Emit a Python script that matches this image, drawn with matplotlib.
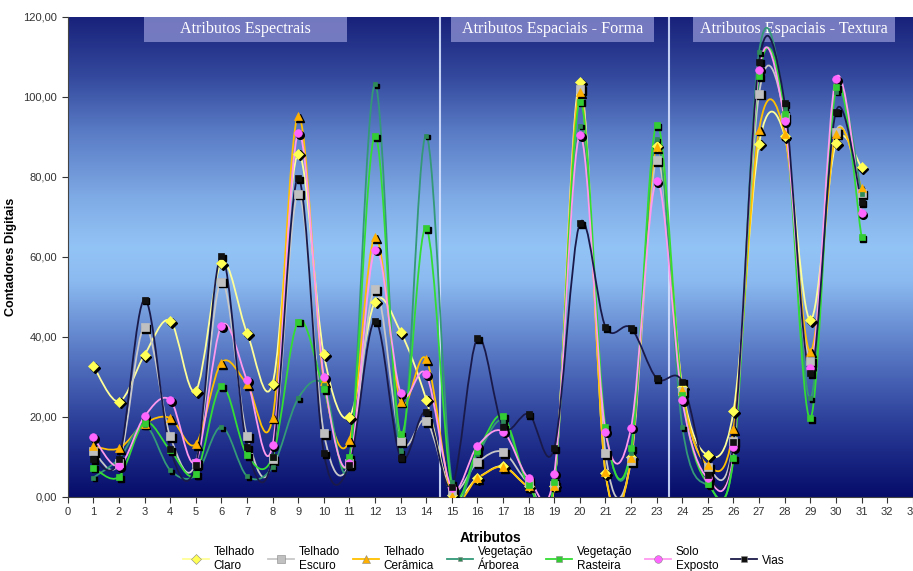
import matplotlib
matplotlib.use('Agg')
import matplotlib.pyplot as plt
import numpy as np
from matplotlib.path import Path
from matplotlib.patches import PathPatch, Rectangle
from matplotlib.colors import LinearSegmentedColormap
from matplotlib import transforms

plt.rcParams['font.family'] = ['Liberation Sans', 'DejaVu Sans']

atributos = list(range(1, 32))

telhado_claro = [32.7, 23.8, 35.5, 44.0, 26.5, 58.5, 41.0, 28.3, 85.8, 35.6, 20.0, 48.8, 41.2, 24.3,
                 0.5, 4.7, 7.6, 2.6, 2.8, 103.6, 6.0, 10.0, 87.8, 27.5, 10.4, 21.4, 88.3, 90.2, 44.2, 88.4, 82.4]
telhado_escuro = [11.5, 8.5, 42.5, 15.1, 8.5, 53.8, 15.2, 9.5, 75.8, 16.0, 8.5, 51.9, 14.0, 19.0,
                  1.5, 8.6, 11.2, 3.5, 3.0, 102.0, 11.0, 9.0, 84.2, 26.5, 7.5, 14.0, 100.8, 95.0, 34.0, 91.2, 76.0]
telhado_ceramica = [12.6, 12.1, 18.3, 19.7, 13.2, 33.5, 28.2, 19.8, 95.2, 29.0, 14.2, 65.0, 23.8, 34.4,
                    0.3, 4.6, 7.5, 2.6, 2.8, 101.2, 6.2, 9.6, 87.5, 26.7, 7.9, 17.0, 91.8, 90.6, 36.3, 90.8, 77.2]
veg_arborea = [4.8, 9.5, 18.0, 6.7, 5.4, 17.5, 5.2, 7.5, 24.6, 28.0, 9.0, 103.1, 11.5, 90.3,
               3.6, 10.8, 19.0, 3.0, 3.6, 92.8, 17.0, 11.0, 89.5, 17.5, 2.9, 10.0, 111.2, 97.0, 24.6, 101.3, 75.7]
veg_rasteira = [7.3, 5.0, 18.5, 11.7, 5.7, 27.7, 10.4, 10.0, 43.8, 27.0, 10.0, 90.2, 15.7, 67.2,
                2.5, 11.5, 20.2, 2.9, 3.8, 98.8, 17.4, 12.1, 93.0, 25.5, 3.3, 9.6, 105.2, 95.8, 19.6, 102.4, 65.0]
solo_exposto = [14.9, 7.7, 20.1, 24.2, 8.8, 42.7, 29.2, 12.9, 90.9, 30.0, 8.5, 61.8, 26.0, 30.6,
                2.1, 12.7, 16.3, 4.6, 5.8, 90.4, 16.3, 17.3, 79.0, 24.2, 4.6, 12.4, 106.8, 94.0, 32.3, 104.5, 71.0]
vias = [9.5, 9.5, 49.3, 12.0, 8.0, 60.2, 12.4, 10.0, 79.7, 11.0, 8.0, 44.0, 9.8, 21.2,
        2.5, 39.6, 17.5, 20.7, 12.2, 68.4, 42.5, 42.2, 29.6, 28.8, 5.5, 13.6, 108.8, 98.4, 31.0, 96.3, 73.6]

nomes = ['Telhado\nClaro', 'Telhado\nEscuro', 'Telhado\nCerâmica', 'Vegetação\nÁrborea',
         'Vegetação\nRasteira', 'Solo\nExposto', 'Vias']
series = [telhado_claro, telhado_escuro, telhado_ceramica, veg_arborea, veg_rasteira, solo_exposto, vias]
cor_linha = ['#ffff99', '#c8c8c8', '#ffc000', '#339977', '#33dd33', '#ff99ee', '#1a1a4a']
cor_marca = ['#ffff55', '#c0c0c0', '#ffb000', '#2e8b57', '#33cc33', '#ff66ff', '#111111']
marcas = ['D', 's', '^', 's', 's', 'o', 's']
tam = [5, 5.5, 6, 3.5, 5, 5.5, 4]

grupos = ['Atributos Espectrais', 'Atributos Espaciais - Forma', 'Atributos Espaciais - Textura']
grupo_ini = [2.97, 14.96, 24.4]
separadores = [14.55, 23.5]


def suave(xs, ys):
    # excel-like smoothed line: catmull-rom as cubic bezier
    p = np.column_stack([xs, ys]).astype(float)
    n = len(p)
    verts = [p[0]]
    codes = [Path.MOVETO]
    for i in range(n - 1):
        p0 = p[i - 1] if i > 0 else p[i]
        p3 = p[i + 2] if i + 2 < n else p[i + 1]
        verts += [p[i] + (p[i + 1] - p0) / 6, p[i + 1] - (p3 - p[i]) / 6, p[i + 1]]
        codes += [Path.CURVE4] * 3
    return Path(verts, codes)


fig = plt.figure(figsize=(9.13, 5.71), dpi=100)
ax = fig.add_axes([0.0742, 0.130, 0.9255, 0.8406])

# gradient background
cmap = LinearSegmentedColormap.from_list('fundo', [
    (0.0, '#060c6a'), (0.15, '#2a3d98'), (0.3, '#5878c4'), (0.45, '#8bbaf0'),
    (0.52, '#93c4f6'), (0.62, '#80ace6'), (0.76, '#5a7cc6'), (0.88, '#33489c'), (1.0, '#19227a')])
grad = np.linspace(0, 1, 256).reshape(-1, 1)
ax.imshow(grad, cmap=cmap, origin='lower', extent=(0, 33, 0, 120), aspect='auto', zorder=0)

for s in separadores:
    ax.plot([s, s], [0, 120], color='#d5e0ff', lw=1.5, alpha=0.9, zorder=1)

for g, x0 in zip(grupos, grupo_ini):
    ax.add_patch(Rectangle((x0, 113.7), 7.92, 6.3, facecolor='#7c81c6', edgecolor='none', alpha=0.92, zorder=1))
    ax.text(x0 + 3.96, 116.9, g, ha='center', va='center', color='white', fontsize=11.6,
            family='Liberation Serif', zorder=2)

sombra = transforms.offset_copy(ax.transData, fig=fig, x=1.8, y=-1.8, units='dots')
handles = []
for ys, lc, mc, mk, ms in zip(series, cor_linha, cor_marca, marcas, tam):
    ax.add_patch(PathPatch(suave(atributos, ys), fill=False, edgecolor=lc, lw=1.3, zorder=3))
    ax.plot(atributos, ys, ls='none', marker=mk, ms=ms, color='black', transform=sombra, zorder=4)
    ax.plot(atributos, ys, ls='none', marker=mk, ms=ms, markerfacecolor=mc,
            markeredgecolor=mc, markeredgewidth=0.5, zorder=5)
    h, = ax.plot([], [], color=lc, lw=1.3, marker=mk, ms=ms, markerfacecolor=mc, markeredgecolor='#888888',
                 markeredgewidth=0.4)
    handles.append(h)

ax.set_xlim(0, 33)
ax.set_ylim(0, 120)
ax.set_xticks(range(0, 34))
ax.set_yticks(range(0, 121, 20))
ax.set_yticklabels([f'{v:.2f}'.replace('.', ',') for v in range(0, 121, 20)])
ax.tick_params(labelsize=8, colors='#333333', length=4, width=0.8)
for sp in ['top', 'right']:
    ax.spines[sp].set_visible(False)
for sp in ['left', 'bottom']:
    ax.spines[sp].set_color('#444444')

ax.set_xlabel('Atributos', fontsize=10, fontweight='bold', labelpad=10)
ax.set_ylabel('Contadores Digitais', fontsize=9, fontweight='bold')
ax.yaxis.set_label_coords(-0.06, 0.5)

fig.legend(handles, nomes, loc='upper center', bbox_to_anchor=(0.53, 0.062), ncol=7, frameon=False,
           fontsize=8.5, handlelength=2.2, columnspacing=1.1, handletextpad=0.4)

fig.savefig('out.png', dpi=100)
